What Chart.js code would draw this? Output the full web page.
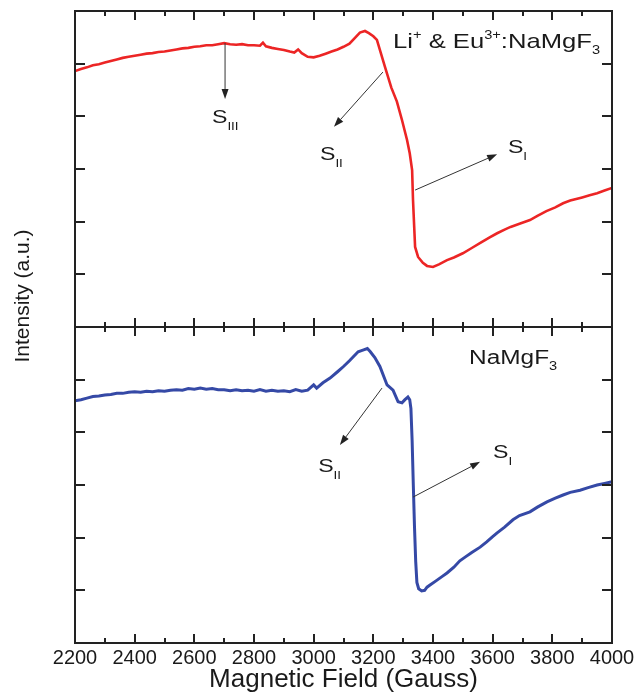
<!DOCTYPE html>
<html>
<head>
<meta charset="utf-8">
<title>EPR spectra</title>
<script src="https://cdn.jsdelivr.net/npm/chart.js@4.4.1/dist/chart.umd.min.js"></script>
<style>
  html, body { margin: 0; padding: 0; background: #fff; }
  #epr { display: block; }
</style>
</head>
<body>
<canvas id="epr" width="636" height="699"></canvas>
<script>
// Li+ & Eu3+ co-doped sample (upper panel)
const fieldDoped = [2200, 2220, 2240, 2260, 2280, 2300, 2320, 2340, 2360, 2380, 2400, 2420, 2440, 2460, 2480,
  2500, 2520, 2540, 2560, 2580, 2600, 2620, 2640, 2660, 2680, 2700, 2720, 2740, 2760, 2780, 2800, 2820, 2830,
  2840, 2860, 2880, 2900, 2920, 2935, 2948, 2960, 2980, 3000, 3020, 3040, 3060, 3080, 3100, 3120, 3140, 3155,
  3172, 3185, 3200, 3212, 3239, 3260, 3279, 3296, 3313, 3322, 3330, 3333, 3337, 3340, 3350, 3366, 3380, 3400,
  3420, 3447, 3470, 3500, 3530, 3560, 3590, 3615, 3640, 3660, 3690, 3725, 3750, 3780, 3810, 3836, 3860, 3900,
  3925, 3950, 3975, 4000];
const intDoped = [4.86, 4.90, 4.93, 4.97, 4.99, 5.02, 5.05, 5.08, 5.11, 5.13, 5.15, 5.17, 5.19, 5.20, 5.22,
  5.23, 5.25, 5.27, 5.29, 5.30, 5.32, 5.33, 5.35, 5.35, 5.37, 5.39, 5.37, 5.36, 5.37, 5.35, 5.35, 5.34, 5.40,
  5.33, 5.30, 5.28, 5.26, 5.23, 5.21, 5.27, 5.20, 5.13, 5.12, 5.15, 5.19, 5.23, 5.27, 5.32, 5.38, 5.50, 5.59,
  5.62, 5.58, 5.52, 5.45, 4.94, 4.55, 4.28, 3.93, 3.55, 3.30, 2.98, 2.41, 1.90, 1.52, 1.33, 1.22, 1.16, 1.14,
  1.19, 1.27, 1.32, 1.40, 1.50, 1.60, 1.70, 1.78, 1.85, 1.90, 1.96, 2.03, 2.11, 2.20, 2.27, 2.35, 2.40, 2.46,
  2.50, 2.54, 2.59, 2.64];

// undoped NaMgF3 (lower panel)
const fieldPure = [2200, 2220, 2240, 2260, 2280, 2300, 2320, 2340, 2360, 2380, 2400, 2420, 2440, 2460, 2480,
  2500, 2520, 2540, 2560, 2580, 2600, 2620, 2640, 2660, 2680, 2700, 2720, 2740, 2760, 2780, 2800, 2820, 2840,
  2860, 2880, 2900, 2920, 2940, 2960, 2980, 3000, 3010, 3031, 3055, 3080, 3100, 3120, 3149, 3165, 3180, 3190,
  3205, 3222, 3246, 3266, 3283, 3296, 3306, 3316, 3322, 3326, 3330, 3334, 3338, 3342, 3346, 3352, 3362, 3372,
  3380, 3390, 3410, 3430, 3447, 3470, 3490, 3510, 3530, 3558, 3580, 3600, 3615, 3640, 3668, 3690, 3725, 3750,
  3782, 3810, 3836, 3860, 3893, 3920, 3950, 3975, 4000];
const intPure = [4.60, 4.62, 4.65, 4.68, 4.69, 4.71, 4.72, 4.74, 4.74, 4.76, 4.77, 4.76, 4.78, 4.77, 4.79,
  4.78, 4.80, 4.81, 4.80, 4.83, 4.82, 4.84, 4.82, 4.83, 4.81, 4.81, 4.79, 4.81, 4.79, 4.80, 4.78, 4.81, 4.78,
  4.80, 4.78, 4.79, 4.77, 4.81, 4.78, 4.80, 4.90, 4.84, 4.94, 5.03, 5.15, 5.25, 5.36, 5.53, 5.56, 5.59, 5.53,
  5.42, 5.25, 4.90, 4.80, 4.58, 4.56, 4.62, 4.67, 4.62, 4.45, 3.85, 3.00, 2.20, 1.55, 1.15, 1.03, 0.99, 1.00,
  1.06, 1.10, 1.18, 1.26, 1.33, 1.44, 1.56, 1.64, 1.72, 1.82, 1.92, 2.02, 2.09, 2.20, 2.34, 2.42, 2.49, 2.58,
  2.68, 2.75, 2.81, 2.86, 2.90, 2.95, 3.00, 3.03, 3.06];

const xTickLabels = [2200, 2400, 2600, 2800, 3000, 3200, 3400, 3600, 3800, 4000];

const toPoints = (xs, ys) => xs.map((x, i) => ({ x: x, y: ys[i] }));

// signal markers, in field / intensity units of each panel
const arrows = [
  { axis: 'yTop', from: [2703, 5.39], to: [2703, 4.33] },
  { axis: 'yTop', from: [3232, 4.84], to: [3068, 3.80] },
  { axis: 'yTop', from: [3340, 2.60], to: [3615, 3.28] },
  { axis: 'yBot', from: [3229, 4.84], to: [3088, 3.76] },
  { axis: 'yBot', from: [3333, 2.77], to: [3558, 3.44] }
];

// text pieces: [text, font size, baseline shift]
const labels = [
  { axis: 'yTop', at: [2659, 3.87], parts: [['S', 19, 0], ['III', 11, 7]] },
  { axis: 'yTop', at: [3021, 3.17], parts: [['S', 19, 0], ['II', 11, 7]] },
  { axis: 'yTop', at: [3651, 3.30], parts: [['S', 19, 0], ['I', 11, 7]] },
  { axis: 'yTop', at: [3266, 5.30], parts: [['Li', 21, 0], ['+', 12, -9], [' & Eu', 21, 0], ['3+', 12, -9], [':NaMgF', 21, 0], ['3', 12, 6]] },
  { axis: 'yBot', at: [3015, 3.25], parts: [['S', 19, 0], ['II', 11, 7]] },
  { axis: 'yBot', at: [3601, 3.51], parts: [['S', 19, 0], ['I', 11, 7]] },
  { axis: 'yBot', at: [3521, 5.30], parts: [['NaMgF', 20, 0], ['3', 12, 6]] }
];

const FONT = '"Liberation Sans", Arial, sans-serif';

function drawRich(ctx, x, y, parts) {
  ctx.save();
  ctx.translate(x, y);
  ctx.scale(1.22, 1); // lettering is set a bit wide
  ctx.textBaseline = 'alphabetic';
  ctx.textAlign = 'left';
  let cx = 0;
  parts.forEach(([t, size, dy]) => {
    ctx.font = size + 'px ' + FONT;
    ctx.fillText(t, cx, dy);
    cx += ctx.measureText(t).width;
  });
  ctx.restore();
}

function drawArrow(ctx, x1, y1, x2, y2) {
  const ang = Math.atan2(y2 - y1, x2 - x1);
  const len = 10, half = 3.5;
  ctx.beginPath();
  ctx.moveTo(x1, y1);
  ctx.lineTo(x2 - Math.cos(ang) * len, y2 - Math.sin(ang) * len);
  ctx.stroke();
  ctx.beginPath();
  ctx.moveTo(x2, y2);
  ctx.lineTo(x2 - Math.cos(ang) * len - Math.sin(ang) * half, y2 - Math.sin(ang) * len + Math.cos(ang) * half);
  ctx.lineTo(x2 - Math.cos(ang) * len + Math.sin(ang) * half, y2 - Math.sin(ang) * len - Math.cos(ang) * half);
  ctx.closePath();
  ctx.fill();
}

// frames, inward ticks, arrows and signal labels
const panelDecor = {
  id: 'panelDecor',
  afterDraw(chart) {
    const ctx = chart.ctx;
    const xs = chart.scales.x;
    const left = xs.left, right = xs.right;
    ctx.save();
    ctx.strokeStyle = '#222';
    ctx.lineWidth = 2;
    ['yTop', 'yBot'].forEach(id => {
      const ys = chart.scales[id];
      ctx.strokeRect(left, ys.top, right - left, ys.bottom - ys.top);
      ctx.beginPath();
      for (let g = 2200; g <= 4000; g += 100) {
        const px = Math.round(xs.getPixelForValue(g));
        const len = g % 200 === 0 ? 9 : 5;
        ctx.moveTo(px, ys.top); ctx.lineTo(px, ys.top + len);
        ctx.moveTo(px, ys.bottom); ctx.lineTo(px, ys.bottom - len);
      }
      for (let v = 1; v <= 5; v++) {
        const py = Math.round(ys.getPixelForValue(v));
        ctx.moveTo(left, py); ctx.lineTo(left + 10, py);
        ctx.moveTo(right, py); ctx.lineTo(right - 10, py);
      }
      ctx.stroke();
    });

    ctx.strokeStyle = '#333';
    ctx.fillStyle = '#222';
    ctx.lineWidth = 1;
    arrows.forEach(a => {
      const ys = chart.scales[a.axis];
      drawArrow(ctx,
        xs.getPixelForValue(a.from[0]), ys.getPixelForValue(a.from[1]),
        xs.getPixelForValue(a.to[0]), ys.getPixelForValue(a.to[1]));
    });

    ctx.fillStyle = '#1a1a1a';
    labels.forEach(l => {
      const ys = chart.scales[l.axis];
      drawRich(ctx, xs.getPixelForValue(l.at[0]), ys.getPixelForValue(l.at[1]), l.parts);
    });

    // shared y title
    ctx.translate(23, 296);
    ctx.rotate(-Math.PI / 2);
    ctx.font = '21px ' + FONT;
    ctx.textAlign = 'center';
    ctx.textBaseline = 'middle';
    ctx.fillText('Intensity (a.u.)', 0, 0);
    ctx.restore();
  }
};

const hiddenY = () => ({
  type: 'linear',
  position: 'left',
  stack: 'panels',
  stackWeight: 1,
  min: 0,
  max: 6,
  ticks: { display: false, stepSize: 1 },
  grid: { display: false },
  border: { display: false },
  afterFit: (s) => { s.width = 75; }
});

new Chart(document.getElementById('epr'), {
  type: 'line',
  data: {
    datasets: [
      {
        label: 'Li+ & Eu3+:NaMgF3',
        data: toPoints(fieldDoped, intDoped),
        yAxisID: 'yTop',
        borderColor: '#ec2525',
        borderWidth: 2.6,
        pointRadius: 0,
        tension: 0
      },
      {
        label: 'NaMgF3',
        data: toPoints(fieldPure, intPure),
        yAxisID: 'yBot',
        borderColor: '#3549a6',
        borderWidth: 3,
        pointRadius: 0,
        tension: 0
      }
    ]
  },
  options: {
    responsive: false,
    animation: false,
    layout: { padding: { top: 11, right: 24, left: 0, bottom: 0 } },
    plugins: { legend: { display: false }, tooltip: { enabled: false } },
    scales: {
      x: {
        type: 'linear',
        min: 2200,
        max: 4000,
        afterBuildTicks: (s) => { s.ticks = xTickLabels.map(v => ({ value: v })); },
        ticks: {
          color: '#1a1a1a',
          padding: 3,
          maxRotation: 0,
          font: { family: FONT, size: 20 },
          callback: (v) => String(v)
        },
        grid: { display: false, drawTicks: false },
        border: { display: false },
        title: {
          display: true,
          text: 'Magnetic Field (Gauss)',
          color: '#1a1a1a',
          font: { family: FONT, size: 26 },
          padding: { top: 0, bottom: 4 }
        },
        afterFit: (s) => {
          s.height = 56;
          // end labels may hang past the frame
          s.paddingLeft = 0;
          s.paddingRight = 0;
        }
      },
      // the first stacked axis ends up at the bottom
      yBot: hiddenY(),
      yTop: hiddenY()
    }
  },
  plugins: [panelDecor]
});
</script>
</body>
</html>
